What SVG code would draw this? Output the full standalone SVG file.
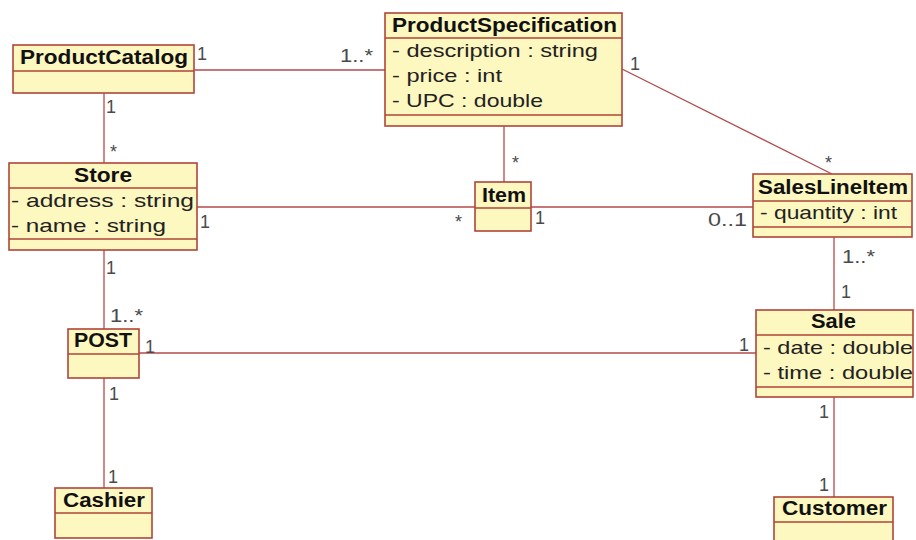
<svg xmlns="http://www.w3.org/2000/svg" width="916" height="540" viewBox="0 0 916 540">
<style>
.box{fill:#fdf7c0;stroke:#b0453a;stroke-width:1.6}
.div{stroke:#b0453a;stroke-width:1.6;fill:none}
.con line{stroke:#b54a4a;stroke-width:1.3}
.t{font-family:"Liberation Sans",Arial,sans-serif;font-weight:bold;font-size:20px;fill:#111}
.a{font-family:"Liberation Sans",Arial,sans-serif;font-size:19px;fill:#222}
.m{font-family:"Liberation Sans",Arial,sans-serif;font-size:18px;fill:#4a4a4a}
</style>
<rect width="916" height="540" fill="#ffffff"/>
<g id="connectors" class="con">
<line x1="194" y1="70" x2="385" y2="70"/>
<line x1="104" y1="93" x2="104" y2="163"/>
<line x1="622" y1="69" x2="832" y2="174"/>
<line x1="504" y1="126" x2="504" y2="182"/>
<line x1="197" y1="207" x2="475" y2="207"/>
<line x1="531" y1="207" x2="753" y2="207"/>
<line x1="104" y1="250" x2="104" y2="329"/>
<line x1="139" y1="353" x2="756" y2="353"/>
<line x1="104" y1="378" x2="104" y2="488"/>
<line x1="834" y1="237" x2="834" y2="310"/>
<line x1="834" y1="397" x2="834" y2="497"/>
</g>
<g id="labels">
<text class="m" x="197" y="60">1</text>
<text class="m" x="340" y="62" textLength="33" lengthAdjust="spacingAndGlyphs">1..*</text>
<text class="m" x="630" y="70">1</text>
<text class="m" x="106" y="113">1</text>
<text class="m" x="110" y="158">*</text>
<text class="m" x="200" y="228">1</text>
<text class="m" x="512" y="169">*</text>
<text class="m" x="455" y="228">*</text>
<text class="m" x="535" y="224">1</text>
<text class="m" x="708" y="226" textLength="39" lengthAdjust="spacingAndGlyphs">0..1</text>
<text class="m" x="825" y="169">*</text>
<text class="m" x="842" y="263" textLength="33" lengthAdjust="spacingAndGlyphs">1..*</text>
<text class="m" x="841" y="298">1</text>
<text class="m" x="739" y="351">1</text>
<text class="m" x="145" y="353">1</text>
<text class="m" x="106" y="274">1</text>
<text class="m" x="110" y="322" textLength="33" lengthAdjust="spacingAndGlyphs">1..*</text>
<text class="m" x="109" y="400">1</text>
<text class="m" x="108" y="483">1</text>
<text class="m" x="819" y="418">1</text>
<text class="m" x="819" y="491">1</text>
</g>
<g id="ProductCatalog">
<rect class="box" x="13" y="45" width="181" height="48"/>
<line class="div" x1="13" y1="71" x2="194" y2="71"/>
<text class="t" x="20" y="64" textLength="168" lengthAdjust="spacingAndGlyphs">ProductCatalog</text>
</g>
<g id="ProductSpecification">
<rect class="box" x="385" y="13" width="237" height="113"/>
<line class="div" x1="385" y1="38" x2="622" y2="38"/>
<line class="div" x1="385" y1="115" x2="622" y2="115"/>
<text class="t" x="392" y="32" textLength="225" lengthAdjust="spacingAndGlyphs">ProductSpecification</text>
<text class="a" x="392" y="57" textLength="206" lengthAdjust="spacingAndGlyphs">- description : string</text>
<text class="a" x="392" y="82" textLength="110" lengthAdjust="spacingAndGlyphs">- price : int</text>
<text class="a" x="392" y="107" textLength="151" lengthAdjust="spacingAndGlyphs">- UPC : double</text>
</g>
<g id="Store">
<rect class="box" x="9" y="163" width="188" height="87"/>
<line class="div" x1="9" y1="188" x2="197" y2="188"/>
<line class="div" x1="9" y1="239" x2="197" y2="239"/>
<text class="t" x="74" y="182" textLength="58" lengthAdjust="spacingAndGlyphs">Store</text>
<text class="a" x="11" y="207" textLength="183" lengthAdjust="spacingAndGlyphs">- address : string</text>
<text class="a" x="11" y="232" textLength="155" lengthAdjust="spacingAndGlyphs">- name : string</text>
</g>
<g id="Item">
<rect class="box" x="475" y="182" width="56" height="49"/>
<line class="div" x1="475" y1="208" x2="531" y2="208"/>
<text class="t" x="482" y="202" textLength="44" lengthAdjust="spacingAndGlyphs">Item</text>
</g>
<g id="SalesLineItem">
<rect class="box" x="753" y="174" width="159" height="63"/>
<line class="div" x1="753" y1="201" x2="912" y2="201"/>
<line class="div" x1="753" y1="227" x2="912" y2="227"/>
<text class="t" x="758" y="194" textLength="150" lengthAdjust="spacingAndGlyphs">SalesLineItem</text>
<text class="a" x="760" y="219" textLength="137" lengthAdjust="spacingAndGlyphs">- quantity : int</text>
</g>
<g id="POST">
<rect class="box" x="68" y="329" width="71" height="49"/>
<line class="div" x1="68" y1="354" x2="139" y2="354"/>
<text class="t" x="74" y="347" textLength="58" lengthAdjust="spacingAndGlyphs">POST</text>
</g>
<g id="Sale">
<rect class="box" x="756" y="310" width="157" height="87"/>
<line class="div" x1="756" y1="335" x2="913" y2="335"/>
<line class="div" x1="756" y1="387" x2="913" y2="387"/>
<text class="t" x="811" y="328" textLength="45" lengthAdjust="spacingAndGlyphs">Sale</text>
<text class="a" x="763" y="354" textLength="150" lengthAdjust="spacingAndGlyphs">- date : double</text>
<text class="a" x="763" y="379" textLength="150" lengthAdjust="spacingAndGlyphs">- time : double</text>
</g>
<g id="Cashier">
<rect class="box" x="55" y="488" width="97" height="50"/>
<line class="div" x1="55" y1="513" x2="152" y2="513"/>
<text class="t" x="63" y="507" textLength="82" lengthAdjust="spacingAndGlyphs">Cashier</text>
</g>
<g id="Customer">
<rect class="box" x="774" y="497" width="119" height="50"/>
<line class="div" x1="774" y1="522" x2="893" y2="522"/>
<text class="t" x="782" y="515" textLength="105" lengthAdjust="spacingAndGlyphs">Customer</text>
</g>
</svg>
